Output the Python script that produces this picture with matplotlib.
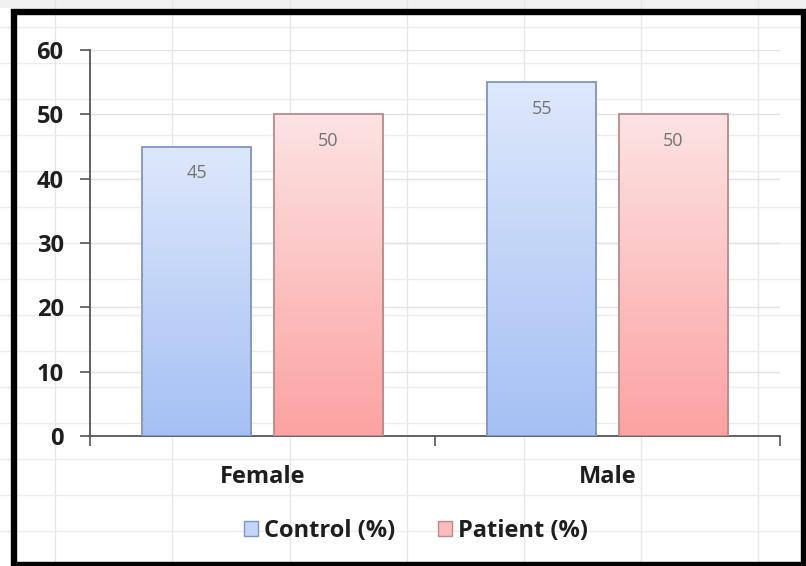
import numpy as np
import matplotlib
matplotlib.use("Agg")
import matplotlib.pyplot as plt
from matplotlib.patches import Rectangle, Patch
from matplotlib.colors import LinearSegmentedColormap

# Data
categories = ["Female", "Male"]
series_names = ["Control (%)", "Patient (%)"]
control_values = [45, 55]
patient_values = [50, 50]
y_ticks = [0, 10, 20, 30, 40, 50, 60]

W, H, DPI = 806, 566, 100
fig = plt.figure(figsize=(W / DPI, H / DPI), dpi=DPI)
fig.patch.set_facecolor("white")

plt.rcParams["font.family"] = ["Open Sans", "DejaVu Sans"]

# Sheet-style background grid behind the chart
bg = fig.add_axes([0, 0, 1, 1], zorder=-5)
bg.set_xlim(0, W)
bg.set_ylim(H, 0)
bg.axis("off")
for xv in [55, 172, 290, 407, 524, 641, 758]:
    bg.axvline(xv, color="#e6e6e6", lw=1.0)
for yv in range(27, H, 36):
    bg.axhline(yv, color="#ececec", lw=1.0)
bg.add_patch(Rectangle((0, 0), W, 8, color="#f0f0f0", lw=0))

# Plot area
ax_left, ax_right = 90 / W, 780 / W
ax_bottom, ax_top = (H - 436) / H, (H - 50) / H
ax = fig.add_axes([ax_left, ax_bottom, ax_right - ax_left, ax_top - ax_bottom])
ax.set_facecolor("none")

bar_w = 0.316
offset = 0.191
centers = np.arange(len(categories)) + 0.5

cmaps = [
    LinearSegmentedColormap.from_list("ctrl", ["#a5c0f4", "#dde8fb"]),
    LinearSegmentedColormap.from_list("pat", ["#fca2a2", "#fde3e3"]),
]
edges = ["#8094c0", "#b88a8a"]
grad = np.linspace(0, 1, 256).reshape(-1, 1)

for s, (vals, cmap, ec) in enumerate(zip([control_values, patient_values], cmaps, edges)):
    xs = centers + (offset if s else -offset)
    bars = ax.bar(xs, vals, width=bar_w, facecolor="none", edgecolor=ec,
                  linewidth=1.3, zorder=4)
    for b, v in zip(bars, vals):
        x0 = b.get_x()
        im = ax.imshow(grad, extent=[x0, x0 + bar_w, 0, v], origin="lower",
                       cmap=cmap, aspect="auto", zorder=3, interpolation="bicubic")
        im.set_clip_path(b)
        ax.annotate(f"{v}", xy=(b.get_x() + bar_w / 2, v), xytext=(0, -19),
                    textcoords="offset points", ha="center", va="center",
                    fontsize=13, color="#737373", zorder=5)

ax.set_xlim(0, len(categories))
ax.set_ylim(0, 60)

# Faint value gridlines
for t in y_ticks[1:]:
    ax.axhline(t, color="#e2e2e2", lw=1.0, zorder=1)

ax.set_yticks(y_ticks)
ax.set_yticklabels([str(t) for t in y_ticks], fontsize=17, fontweight="bold",
                   color="#1e1e1e")
ax.tick_params(axis="y", direction="out", length=7, width=1.2, color="#555555", pad=12)

ax.set_xticks(np.arange(len(categories) + 1))
ax.set_xticklabels([])
ax.tick_params(axis="x", which="major", direction="out", length=7, width=1.2,
               color="#555555")
ax.set_xticks(centers, minor=True)
ax.set_xticklabels(categories, minor=True, fontsize=17, fontweight="bold",
                   color="#1e1e1e")
ax.tick_params(axis="x", which="minor", length=0, pad=21)

for side in ["top", "right"]:
    ax.spines[side].set_visible(False)
for side in ["left", "bottom"]:
    ax.spines[side].set_color("#555555")
    ax.spines[side].set_linewidth(1.3)

# Legend
handles = [Patch(facecolor="#c3d5f8", edgecolor="#8094c0", lw=1.0),
           Patch(facecolor="#fcbcbc", edgecolor="#b88a8a", lw=1.0)]
leg = fig.legend(handles, series_names, loc="center",
                 bbox_to_anchor=(416 / W, 1 - 531 / H), ncol=2, frameon=False,
                 prop={"size": 17, "weight": "bold"}, handlelength=0.6,
                 handleheight=0.6, handletextpad=0.25, columnspacing=1.8)
for t in leg.get_texts():
    t.set_color("#1e1e1e")

# Black frame around the chart
frame = fig.add_axes([0, 0, 1, 1], zorder=10)
frame.set_xlim(0, W)
frame.set_ylim(H, 0)
frame.axis("off")
frame.patch.set_alpha(0)
frame.add_patch(Rectangle((13.5, 11.5), 804 - 13.5, 564.5 - 11.5, fill=False,
                          edgecolor="black", lw=4.6))

fig.savefig("out.png", dpi=DPI)
